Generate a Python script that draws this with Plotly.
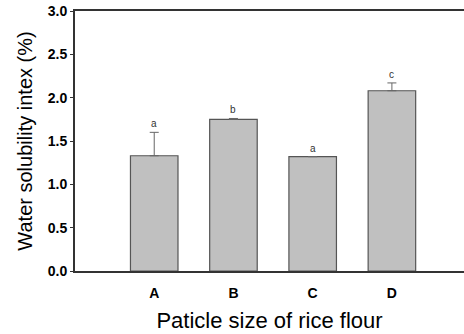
import plotly.graph_objects as go

# Water solubility index by rice flour particle size
categories = ["A", "B", "C", "D"]
values = [1.33, 1.75, 1.32, 2.08]
errors = [0.27, 0.01, 0.0, 0.09]
letters = ["a", "b", "a", "c"]
y_ticks = [0.0, 0.5, 1.0, 1.5, 2.0, 2.5, 3.0]

xpos = list(range(1, len(categories) + 1))

fig = go.Figure()
fig.add_trace(go.Bar(
    x=xpos, y=values, width=0.6,
    marker=dict(color="#c0c0c0", line=dict(color="#555555", width=1.2)),
    error_y=dict(type="data", array=errors, arrayminus=[0] * len(errors),
                 symmetric=False, color="#666666", thickness=1, width=4.5),
))

# significance letters above each bar
for x, v, e, t in zip(xpos, values, errors, letters):
    fig.add_annotation(x=x, y=v + e, text=t, showarrow=False, yanchor="bottom",
                       yshift=1, font=dict(family="Liberation Sans, Arial", size=10, color="#333333"))

fig.update_layout(
    width=464, height=334,
    margin=dict(l=75, r=0, t=11, b=63),
    paper_bgcolor="white", plot_bgcolor="white",
    showlegend=False,
    font=dict(family="Liberation Sans, Arial", color="black"),
)
fig.update_xaxes(
    range=[0, 4.91], tickvals=xpos, ticktext=categories,
    showline=True, linecolor="#333333", linewidth=2, mirror=True,
    ticks="", showgrid=False, zeroline=False, ticklabelstandoff=8,
    tickfont=dict(size=14, family="Liberation Sans, Arial", weight="bold"),
    title=dict(text="Paticle size of rice flour", font=dict(size=22), standoff=13),
)
fig.update_yaxes(
    range=[0, 3.0], tickvals=y_ticks, ticktext=[f"{t:.1f}" for t in y_ticks],
    showline=True, linecolor="#333333", linewidth=2,
    ticks="outside", ticklen=3, tickcolor="#333333", tickwidth=1,
    showgrid=False, zeroline=False,
    tickfont=dict(size=14, family="Liberation Sans, Arial", weight="bold"),
    title=dict(text="Water solubility intex (%)", font=dict(size=20), standoff=10),
)

fig.write_html("out.html")
